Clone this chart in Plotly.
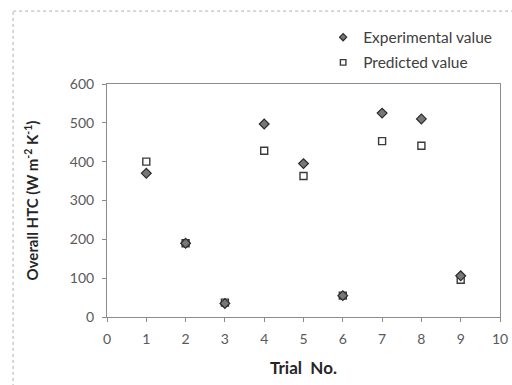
import plotly.graph_objects as go

# Overall heat-transfer coefficient per trial
trials = [1, 2, 3, 4, 5, 6, 7, 8, 9]
experimental = [370, 190, 35, 497, 395, 55, 525, 510, 106]
predicted = [400, 190, 37, 428, 363, 55, 453, 441, 96]

x_ticks = list(range(0, 11))
y_ticks = [0, 100, 200, 300, 400, 500, 600]

FONT = "Lato, Open Sans, sans-serif"

exp_marker = dict(symbol="diamond", color="#777777",
                  line=dict(color="#2a2a2a", width=1.2))
pred_marker = dict(symbol="square", color="white",
                   line=dict(color="#3a3a3a", width=1.4))

fig = go.Figure()
fig.add_trace(go.Scatter(
    x=trials, y=predicted, mode="markers", showlegend=False,
    marker=dict(size=7, **pred_marker),
))
fig.add_trace(go.Scatter(
    x=trials, y=experimental, mode="markers", showlegend=False,
    marker=dict(size=7.5, **exp_marker),
))
# legend entries with smaller symbols
fig.add_trace(go.Scatter(
    x=[None], y=[None], mode="markers", name="Experimental value",
    legendgroup="exp", legendrank=1, marker=dict(size=5.5, **exp_marker),
))
fig.add_trace(go.Scatter(
    x=[None], y=[None], mode="markers", name="Predicted value",
    legendgroup="pred", legendrank=2, marker=dict(size=5.5, **pred_marker),
))

axis_common = dict(
    showline=True, linecolor="#8c8c8c", linewidth=1, mirror=True,
    showgrid=False, zeroline=False, ticks="outside", ticklen=4,
    tickcolor="#8c8c8c", automargin=False,
    tickfont=dict(family=FONT, size=14, color="#595959"),
)

fig.update_layout(
    width=512, height=385,
    margin=dict(l=107, r=12, t=84, b=68),
    paper_bgcolor="white", plot_bgcolor="white",
    showlegend=True,
    legend=dict(
        x=0.55, y=1.272, xanchor="left", yanchor="top",
        font=dict(family=FONT, size=15.5, color="#404040"),
        tracegroupgap=2, itemwidth=30, bgcolor="rgba(0,0,0,0)",
    ),
    xaxis=dict(
        range=[0, 10], tickvals=x_ticks, ticklabelstandoff=5,
        title=dict(text="<b>Trial  No.</b>", standoff=16,
                   font=dict(family=FONT, size=17, color="#262626")),
        **axis_common,
    ),
    yaxis=dict(
        range=[0, 600], tickvals=y_ticks, ticklabelstandoff=5,
        title=dict(text="<b>Overall HTC (W m<sup>-2</sup> K<sup>-1</sup>)</b>",
                   standoff=27,
                   font=dict(family=FONT, size=15, color="#262626")),
        **axis_common,
    ),
    shapes=[
        dict(type="line", xref="paper", yref="paper",
             x0=-0.239, x1=1.04, y0=1.313, y1=1.313,
             line=dict(color="#b0b0b0", width=1, dash="dot")),
        dict(type="line", xref="paper", yref="paper",
             x0=-0.239, x1=-0.239, y0=-0.3, y1=1.313,
             line=dict(color="#b0b0b0", width=1, dash="dot")),
    ],
)

fig.write_html("out.html")
